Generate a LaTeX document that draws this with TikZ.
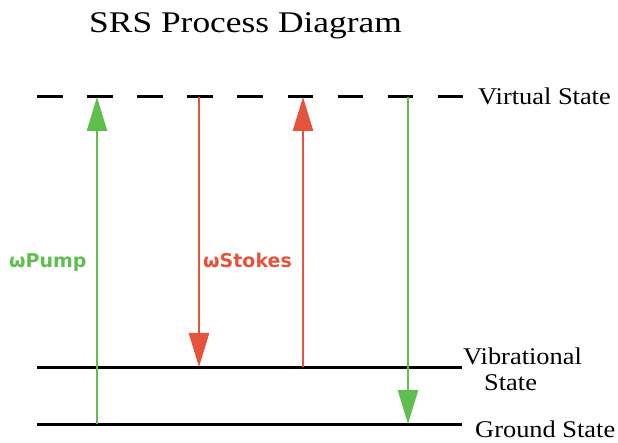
\documentclass[tikz,border=0pt]{standalone}
\usepackage{fontspec}
\setmainfont{Liberation Serif}
\newfontfamily\beamfont{DejaVu Sans Bold}
\usetikzlibrary{arrows.meta}

\definecolor{pumpgreen}{RGB}{96,190,78}
\definecolor{stokesred}{RGB}{229,83,60}

\tikzset{
  level/.style={line width=3pt, black},
  virtuallevel/.style={level, dash pattern=on 25.5pt off 24.6pt},
  beam/.style={line width=2.8pt, -{Triangle[length=34pt,width=20pt]}, shorten >=0pt},
  statelabel/.style={anchor=base west, inner sep=0pt, xscale=1.1, font=\fontsize{24}{26}\selectfont},
  beamlabel/.style={anchor=base west, inner sep=0pt, font=\beamfont\fontsize{19}{21}\selectfont}
}

\begin{document}
\begin{tikzpicture}[x=1pt,y=-1pt]
  \useasboundingbox (0,0) rectangle (618,443);

  % title
  \node[anchor=base west, inner sep=0pt, xscale=1.18, font=\fontsize{30}{34}\selectfont] (title) at (89,33) {SRS Process Diagram};

  % energy levels
  \coordinate (vL) at (37,97);   \coordinate (vR) at (463,97);
  \coordinate (bL) at (37,367);  \coordinate (bR) at (462,367);
  \coordinate (gL) at (37,424);  \coordinate (gR) at (462,424);
  \draw[virtuallevel] (vL) -- (vR);
  \draw[level] (bL) -- (bR);
  \draw[level] (gL) -- (gR);

  % level labels
  \node[statelabel] (virt) at (478,105) {Virtual State};
  \node[statelabel] (vib1) at (463,364) {Vibrational};
  \node[statelabel] (vib2) at (484,390) {State};
  \node[statelabel] (gnd) at (475,437) {Ground State};

  % transition end points
  \coordinate (pumpLow) at (97,424);   \coordinate (pumpHigh) at (97,97);
  \coordinate (stDownHigh) at (199,97); \coordinate (stDownLow) at (199,367);
  \coordinate (stUpLow) at (303,367);   \coordinate (stUpHigh) at (303,97);
  \coordinate (gDownHigh) at (408,97);  \coordinate (gDownLow) at (408,424);

  % transitions
  \draw[beam, pumpgreen] (pumpLow) -- (pumpHigh);
  \draw[beam, stokesred] (stDownHigh) -- (stDownLow);
  \draw[beam, stokesred] (stUpLow) -- (stUpHigh);
  \draw[beam, pumpgreen] (gDownHigh) -- (gDownLow);

  % frequency labels
  \node[beamlabel, text=pumpgreen] (wpump) at (9,268) {ωPump};
  \node[beamlabel, text=stokesred] (wstokes) at (203,268) {ωStokes};
\end{tikzpicture}
\end{document}
